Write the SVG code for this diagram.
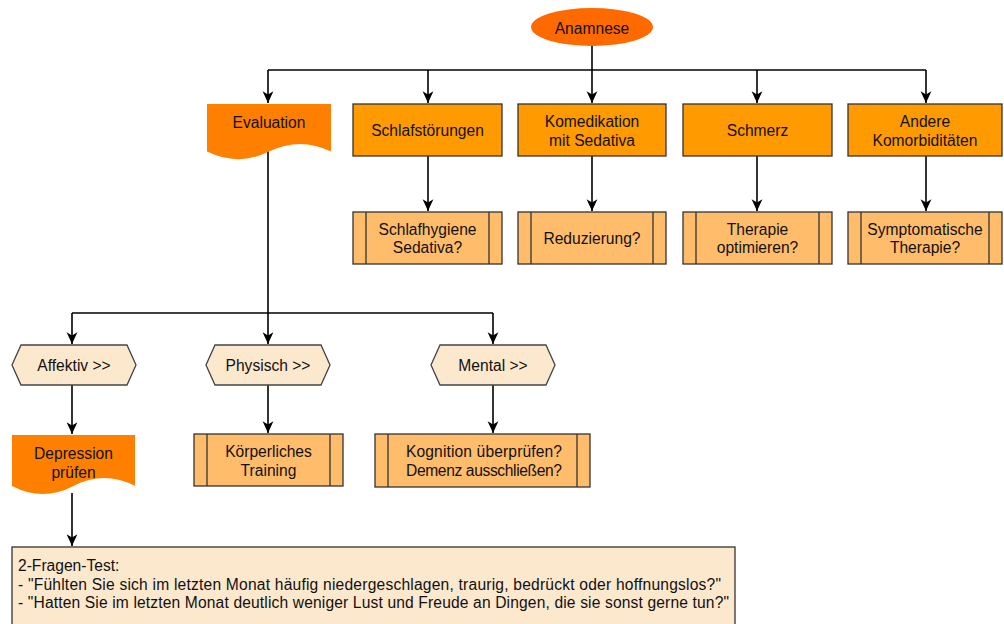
<svg xmlns="http://www.w3.org/2000/svg" width="1004" height="624" viewBox="0 0 1004 624">
<defs>
<marker id="arr" markerUnits="userSpaceOnUse" markerWidth="14" markerHeight="14" viewBox="-12 -6 13 12" refX="0" refY="0" orient="auto">
<path d="M0,0 L-11,-5 L-8,0 L-11,5 Z" fill="#000"/>
</marker>
</defs>
<style>
text{font-family:"Liberation Sans",Arial,sans-serif;font-size:15.6px;fill:#111;text-anchor:middle;dominant-baseline:central}
.t{text-anchor:start;dominant-baseline:auto}
.box{fill:#FF9A00;stroke:#333;stroke-width:1.3}
.proc{fill:#FFBC6B;stroke:#333;stroke-width:1.3}
.hex{fill:#FCE8CC;stroke:#444;stroke-width:1.3}
.doc{fill:#FF8000}
.note{fill:#FCE8CC;stroke:#333;stroke-width:1.3}
.c{fill:none;stroke:#000;stroke-width:1.6}
.ca{fill:none;stroke:#000;stroke-width:1.6;marker-end:url(#arr)}
</style>
<g id="connectors">
<path class="ca" d="M592,46 V103"/>
<path class="c" d="M268,70 H926"/>
<path class="ca" d="M268,70 V103"/>
<path class="ca" d="M428,70 V103"/>
<path class="ca" d="M757,70 V103"/>
<path class="ca" d="M926,70 V103"/>
<path class="ca" d="M428,156 V211"/>
<path class="ca" d="M592,156 V211"/>
<path class="ca" d="M757,156 V211"/>
<path class="ca" d="M926,156 V211"/>
<path class="c" d="M268,151 V313"/>
<path class="c" d="M72,313 H493"/>
<path class="ca" d="M72,313 V344"/>
<path class="ca" d="M268,313 V344"/>
<path class="ca" d="M493,313 V344"/>
<path class="ca" d="M72,385 V434"/>
<path class="ca" d="M268,385 V433"/>
<path class="ca" d="M493,385 V433"/>
<path class="ca" d="M72,493 V546"/>
</g>
<g id="anamnese">
<ellipse cx="592" cy="27" rx="61" ry="19" fill="#FF6A00"/>
<text x="592" y="28">Anamnese</text>
</g>
<g id="evaluation">
<path class="doc" d="M207,104 H331 V151.6 Q300,136.5 269,151.6 Q238,166.7 207,151.6 Z"/>
<text x="269" y="122">Evaluation</text>
</g>
<g id="schlafstoerungen">
<rect class="box" x="353" y="104" width="149" height="52"/>
<text x="427.5" y="130">Schlafstörungen</text>
</g>
<g id="komedikation">
<rect class="box" x="518" y="104" width="148" height="52"/>
<text x="592" y="121">Komedikation</text>
<text x="592" y="140">mit Sedativa</text>
</g>
<g id="schmerz">
<rect class="box" x="683" y="104" width="149" height="52"/>
<text x="757.5" y="130">Schmerz</text>
</g>
<g id="andere">
<rect class="box" x="848" y="104" width="154" height="52"/>
<text x="925" y="121">Andere</text>
<text x="925" y="140">Komorbiditäten</text>
</g>
<g id="schlafhygiene">
<rect class="proc" x="353" y="212" width="149" height="52"/>
<path class="proc" d="M366,212 V264 M489,212 V264"/>
<text x="427.5" y="229">Schlafhygiene</text>
<text x="427.5" y="247">Sedativa?</text>
</g>
<g id="reduzierung">
<rect class="proc" x="518" y="212" width="148" height="52"/>
<path class="proc" d="M531,212 V264 M653,212 V264"/>
<text x="592" y="238">Reduzierung?</text>
</g>
<g id="therapie-optimieren">
<rect class="proc" x="683" y="212" width="149" height="52"/>
<path class="proc" d="M696,212 V264 M819,212 V264"/>
<text x="757.5" y="229">Therapie</text>
<text x="757.5" y="247">optimieren?</text>
</g>
<g id="symptomatische">
<rect class="proc" x="848" y="212" width="154" height="52"/>
<path class="proc" d="M861,212 V264 M989,212 V264"/>
<text x="925" y="229">Symptomatische</text>
<text x="925" y="247">Therapie?</text>
</g>
<g id="affektiv">
<path class="hex" d="M21,345 H127 L136,365 L127,385 H21 L12,365 Z"/>
<text x="74" y="365">Affektiv &gt;&gt;</text>
</g>
<g id="physisch">
<path class="hex" d="M215,345 H321 L330,365 L321,385 H215 L206,365 Z"/>
<text x="268" y="365">Physisch &gt;&gt;</text>
</g>
<g id="mental">
<path class="hex" d="M440,345 H546 L555,365 L546,385 H440 L431,365 Z"/>
<text x="493" y="365">Mental &gt;&gt;</text>
</g>
<g id="depression">
<path class="doc" d="M12,435 H135 V486 Q104.25,470 73.5,486 Q42.75,502 12,486 Z"/>
<text x="73.5" y="453">Depression</text>
<text x="73.5" y="472">prüfen</text>
</g>
<g id="koerperliches-training">
<rect class="proc" x="194" y="434" width="149" height="52"/>
<path class="proc" d="M207,434 V486 M330,434 V486"/>
<text x="268.5" y="451">Körperliches</text>
<text x="268.5" y="470">Training</text>
</g>
<g id="kognition">
<rect class="proc" x="375" y="434" width="215" height="53"/>
<path class="proc" d="M388,434 V487 M577,434 V487"/>
<text x="484" y="451" textLength="156" lengthAdjust="spacing">Kognition überprüfen?</text>
<text x="484" y="470" textLength="156" lengthAdjust="spacing">Demenz ausschließen?</text>
</g>
<g id="fragen-test">
<rect class="note" x="12" y="547" width="723" height="84"/>
<text class="t" x="18" y="571">2-Fragen-Test:</text>
<text class="t" x="18" y="589.5" textLength="703" lengthAdjust="spacing">- "Fühlten Sie sich im letzten Monat häufig niedergeschlagen, traurig, bedrückt oder hoffnungslos?"</text>
<text class="t" x="18" y="608" textLength="711" lengthAdjust="spacing">- "Hatten Sie im letzten Monat deutlich weniger Lust und Freude an Dingen, die sie sonst gerne tun?"</text>
</g>
</svg>
